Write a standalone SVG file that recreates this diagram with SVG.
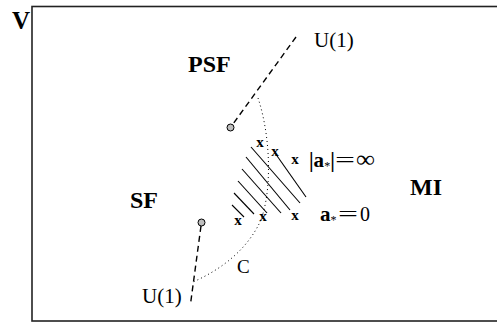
<svg xmlns="http://www.w3.org/2000/svg" width="497" height="323" viewBox="0 0 497 323">
<style>
.lbl{font-family:"Liberation Serif","Times New Roman",serif;font-weight:bold;font-size:24px;fill:#000}
.reg{font-family:"Liberation Serif","Times New Roman",serif;font-size:21px;fill:#000}
.x{font-family:"Liberation Serif","Times New Roman",serif;font-weight:bold;font-size:15px;fill:#000;text-anchor:middle}
.dash{fill:none;stroke:#000;stroke-width:1.4;stroke-dasharray:6,4}
.dot{fill:none;stroke:#000;stroke-width:1;stroke-dasharray:1,3}
.hatch{stroke:#000;stroke-width:1.1}
.pt{fill:#bfbfbf;stroke:#000;stroke-width:1}
</style>
<rect x="0" y="0" width="497" height="323" fill="#fff"/>
<g id="frame">
<rect x="32" y="6.5" width="470" height="314.5" fill="none" stroke="#222" stroke-width="1.6"/>
<text class="lbl" x="12" y="29" style="font-size:25px">V</text>
</g>
<g id="connectors">
<path class="dash" d="M296,37 L233,124"/>
<path class="dash" d="M201,226 L190.5,304"/>
<path class="dot" d="M258,98 C272,140 272,200 258,226 C244,252 220,270 193,282"/>
<g id="hatching">
<line class="hatch" x1="275" y1="153" x2="306" y2="197"/>
<line class="hatch" x1="251" y1="147" x2="300" y2="203"/>
<line class="hatch" x1="246" y1="157" x2="290" y2="210"/>
<line class="hatch" x1="242" y1="169" x2="281" y2="213"/>
<line class="hatch" x1="238" y1="181" x2="267" y2="213"/>
<line class="hatch" x1="234" y1="193" x2="254" y2="214"/>
<line class="hatch" x1="232" y1="205" x2="244" y2="217"/>
</g>
</g>
<g id="PSF">
<text class="lbl" x="188" y="72">PSF</text>
<circle class="pt" cx="230.5" cy="127.5" r="3.5"/>
<text class="reg" x="314" y="47">U(1)</text>
</g>
<g id="SF">
<text class="lbl" x="130" y="208">SF</text>
<circle class="pt" cx="201.5" cy="222.5" r="3.5"/>
<text class="reg" x="142" y="303">U(1)</text>
</g>
<g id="MI">
<text class="lbl" x="410" y="195">MI</text>
</g>
<g id="C">
<text class="reg" x="237" y="273" style="font-size:19px">C</text>
</g>
<g id="marks">
<text class="x" x="260" y="147">x</text>
<text class="x" x="275" y="156">x</text>
<text class="x" x="295" y="164">x</text>
<text class="x" x="295" y="220">x</text>
<text class="x" x="263" y="221">x</text>
<text class="x" x="238" y="225">x</text>
</g>
<g id="a-inf">
<text class="reg" x="309" y="167" style="font-size:21px;font-weight:bold">|a<tspan font-size="12" dy="3" font-weight="normal">*</tspan><tspan dy="-3">|</tspan></text>
<text class="reg" x="335" y="167" style="font-size:20px" textLength="20" lengthAdjust="spacingAndGlyphs">=</text>
<text class="reg" x="356" y="167" style="font-size:24px" textLength="19" lengthAdjust="spacingAndGlyphs">∞</text>
</g>
<g id="a-zero">
<text class="reg" x="320" y="221" style="font-size:21px"><tspan font-weight="bold">a</tspan><tspan font-size="12" dy="3">*</tspan></text>
<text class="reg" x="338" y="221" style="font-size:20px" textLength="20" lengthAdjust="spacingAndGlyphs">=</text>
<text class="reg" x="360" y="221" style="font-size:20px">0</text>
</g>
</svg>
